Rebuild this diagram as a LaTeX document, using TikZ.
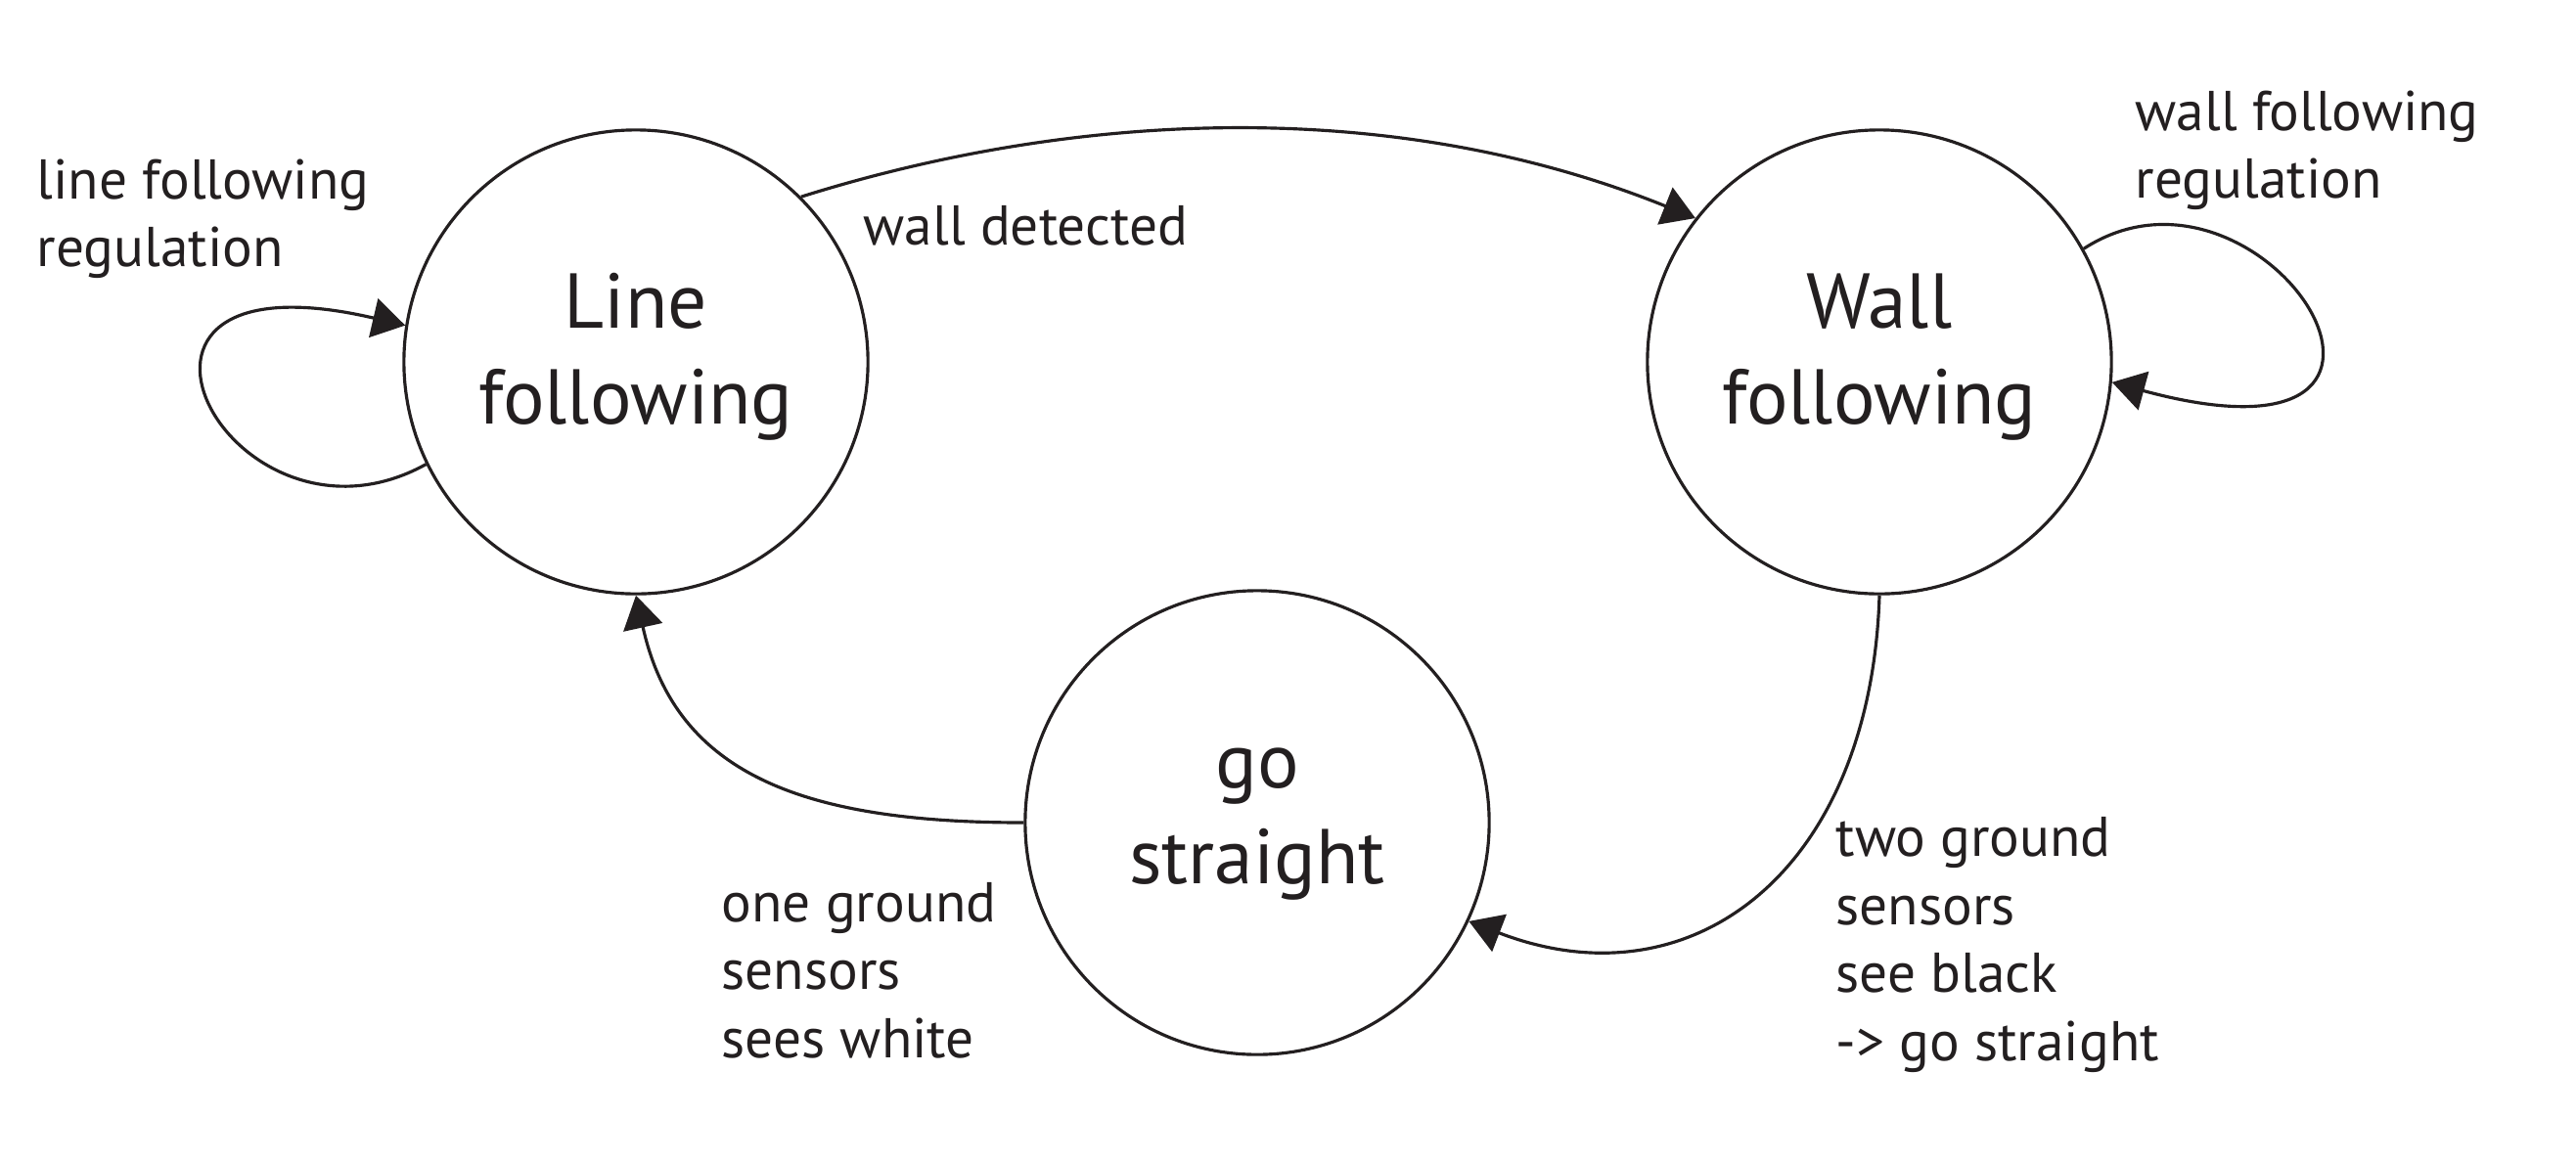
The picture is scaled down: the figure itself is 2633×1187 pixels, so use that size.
\documentclass[tikz,border=0pt]{standalone}
\usepackage{fontspec}
\setmainfont{PT Sans}
\usetikzlibrary{arrows.meta}
\definecolor{ink}{HTML}{231F20}
\begin{document}
\begin{tikzpicture}[x=0.01cm,y=-0.01cm,
  state/.style={circle,draw=ink,line width=0.9pt,minimum size=4.74cm,inner sep=0pt},
  stxt/.style={anchor=base,inner sep=0pt,text=ink,font=\fontsize{22.6}{27.95}\selectfont},
  edge/.style={draw=ink,line width=0.9pt,-{Triangle[length=9.5pt,width=11.5pt]}},
  lbl/.style={anchor=base west,inner sep=0pt,text=ink,font=\fontsize{16.3}{19.9}\selectfont}]
\useasboundingbox (0,0) rectangle (2633,1187);
\fill[white] (0,0) rectangle (2633,1187);
\node[state] (LF) at (650,370) {};
\node[state] (WF) at (1921,370) {};
\node[state] (GS) at (1285,841) {};
\node[stxt] (LFt) at (650,335) {\begin{tabular}[t]{@{}c@{}}Line\\following\end{tabular}};
\node[stxt] (WFt) at (1921,335) {\begin{tabular}[t]{@{}c@{}}Wall\\following\end{tabular}};
\node[stxt] (GSt) at (1285,805.5) {\begin{tabular}[t]{@{}c@{}}go\\straight\end{tabular}};
\draw[edge] (LF.206) .. controls (236,585) and (60,250) .. (LF.171);
\draw[edge] (WF.29) .. controls (2315,134) and (2542,495) .. (WF.-5);
\draw[edge] (LF.45) .. controls (1086,117) and (1413,94) .. (WF.142);
\draw[edge] (WF.270) .. controls (1912,890) and (1730,1030) .. (GS.-25);
\draw[edge] (GS.180) .. controls (818,841) and (690,790) .. (LF.270);
\node[lbl] (t1) at (37,203) {\begin{tabular}[t]{@{}l@{}}line following\\regulation\end{tabular}};
\node[lbl] (t2) at (882,250) {wall detected};
\node[lbl] (t3) at (2182,133) {\begin{tabular}[t]{@{}l@{}}wall following\\regulation\end{tabular}};
\node[lbl] (t4) at (737,942) {\begin{tabular}[t]{@{}l@{}}one ground\\sensors\\sees white\end{tabular}};
\node[lbl] (t5) at (1876,875) {\begin{tabular}[t]{@{}l@{}}two ground\\sensors\\see black\\-> go straight\end{tabular}};
\end{tikzpicture}
\end{document}
